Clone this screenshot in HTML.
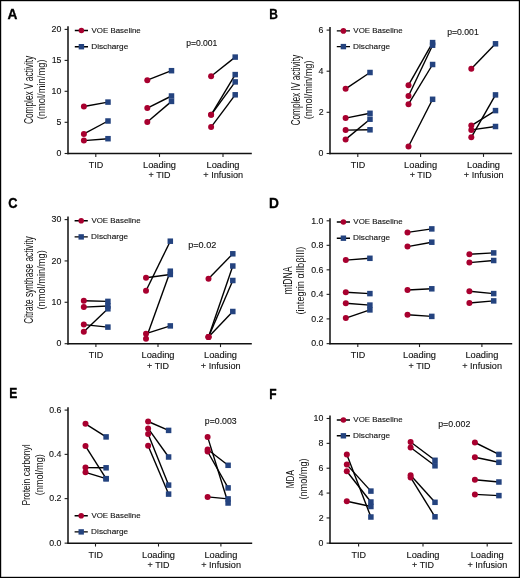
<!DOCTYPE html>
<html><head><meta charset="utf-8"><title>Figure</title>
<style>
html,body{margin:0;padding:0;background:#fff;}
body{width:520px;height:578px;overflow:hidden;}
svg{display:block;will-change:transform;}
text{font-family:"Liberation Sans", sans-serif;fill:#111;stroke:#111;stroke-width:0.12;}
.let{font-weight:bold;font-size:13.8px;fill:#000;stroke:#000;stroke-width:0.3;}
.tl{}
.xl{}
.lg{}
.pv{}
.yl{stroke:none;}
.axis{fill:none;stroke:#1e1e1e;stroke-width:1.6;}
.xaxis{fill:none;stroke:#111;stroke-width:1.45;}
.tick{fill:none;stroke:#1e1e1e;stroke-width:1.1;}
.dl{fill:none;stroke:#000;stroke-width:1.4;}
.ci{fill:#a8002f;}
.sq{fill:#24437f;}
</style></head>
<body>
<svg width="520" height="578" viewBox="0 0 520 578">
<rect x="0.6" y="0.6" width="518.8" height="576.8" fill="#fff" stroke="#000" stroke-width="1.2"/>
<text x="7.61" y="18.6" class="let" style="font-size:13.8px" textLength="9.92" lengthAdjust="spacingAndGlyphs">A</text>
<path d="M68 26.2V154.2" class="axis"/>
<path d="M67.2 153.5H251.8" class="xaxis"/>
<path d="M64.6 153.5H68" class="tick"/>
<text x="56.53" y="156.1" class="tl" style="font-size:9.4px" textLength="4.91" lengthAdjust="spacingAndGlyphs">0</text>
<path d="M64.6 122.3H68" class="tick"/>
<text x="56.55" y="125.1" class="tl" style="font-size:9.4px" textLength="4.91" lengthAdjust="spacingAndGlyphs">5</text>
<path d="M64.6 91.3H68" class="tick"/>
<text x="51.62" y="94.1" class="tl" style="font-size:9.4px" textLength="9.83" lengthAdjust="spacingAndGlyphs">10</text>
<path d="M64.6 60.4H68" class="tick"/>
<text x="51.65" y="63.2" class="tl" style="font-size:9.4px" textLength="9.83" lengthAdjust="spacingAndGlyphs">15</text>
<path d="M64.6 29.4H68" class="tick"/>
<text x="51.62" y="32.2" class="tl" style="font-size:9.4px" textLength="9.83" lengthAdjust="spacingAndGlyphs">20</text>
<path d="M95.8 153.5V156.9" class="tick"/>
<text x="88.75" y="167.9" class="xl" style="font-size:9.3px" textLength="14.54" lengthAdjust="spacingAndGlyphs">TID</text>
<path d="M159.5 153.5V156.9" class="tick"/>
<text x="142.98" y="167.9" class="xl" style="font-size:9.3px" textLength="33.06" lengthAdjust="spacingAndGlyphs">Loading</text>
<text x="148.55" y="178.4" class="xl" style="font-size:9.3px" textLength="22.07" lengthAdjust="spacingAndGlyphs">+ TID</text>
<path d="M223 153.5V156.9" class="tick"/>
<text x="206.48" y="167.9" class="xl" style="font-size:9.3px" textLength="33.06" lengthAdjust="spacingAndGlyphs">Loading</text>
<text x="203.29" y="178.4" class="xl" style="font-size:9.3px" textLength="39.77" lengthAdjust="spacingAndGlyphs">+ Infusion</text>
<path d="M83.9 106.5L108 102.1" class="dl"/>
<path d="M83.9 133.9L108 121" class="dl"/>
<path d="M83.9 140.6L108 138.7" class="dl"/>
<path d="M147.3 80.2L171.5 70.7" class="dl"/>
<path d="M147.3 108.1L171.5 96" class="dl"/>
<path d="M147.3 122L171.5 101.4" class="dl"/>
<path d="M211.1 76.2L235.2 57.1" class="dl"/>
<path d="M211.1 114.8L235.2 74.6" class="dl"/>
<path d="M211.1 114.8L235.2 81.9" class="dl"/>
<path d="M211.1 127.1L235.2 94.8" class="dl"/>
<rect x="105.25" y="99.35" width="5.5" height="5.5" class="sq"/>
<rect x="105.25" y="118.25" width="5.5" height="5.5" class="sq"/>
<rect x="105.25" y="135.95" width="5.5" height="5.5" class="sq"/>
<circle cx="83.9" cy="106.5" r="3" class="ci"/>
<circle cx="83.9" cy="133.9" r="3" class="ci"/>
<circle cx="83.9" cy="140.6" r="3" class="ci"/>
<rect x="168.75" y="67.95" width="5.5" height="5.5" class="sq"/>
<rect x="168.75" y="93.25" width="5.5" height="5.5" class="sq"/>
<rect x="168.75" y="98.65" width="5.5" height="5.5" class="sq"/>
<circle cx="147.3" cy="80.2" r="3" class="ci"/>
<circle cx="147.3" cy="108.1" r="3" class="ci"/>
<circle cx="147.3" cy="122" r="3" class="ci"/>
<rect x="232.45" y="54.35" width="5.5" height="5.5" class="sq"/>
<rect x="232.45" y="71.85" width="5.5" height="5.5" class="sq"/>
<rect x="232.45" y="79.15" width="5.5" height="5.5" class="sq"/>
<rect x="232.45" y="92.05" width="5.5" height="5.5" class="sq"/>
<circle cx="211.1" cy="76.2" r="3" class="ci"/>
<circle cx="211.1" cy="114.8" r="3" class="ci"/>
<circle cx="211.1" cy="114.8" r="3" class="ci"/>
<circle cx="211.1" cy="127.1" r="3" class="ci"/>
<path d="M74.8 30.5H88M74.8 46.7H88" class="dl"/>
<circle cx="81.4" cy="30.5" r="2.8" class="ci"/>
<rect x="78.7" y="44" width="5.4" height="5.4" class="sq"/>
<text x="91.56" y="32.9" class="lg" style="font-size:8.1px" textLength="49.18" lengthAdjust="spacingAndGlyphs">VOE Baseline</text>
<text x="91.22" y="48.7" class="lg" style="font-size:8.1px" textLength="37.05" lengthAdjust="spacingAndGlyphs">Discharge</text>
<text x="186.14" y="45.6" class="pv" style="font-size:9.3px" textLength="31.27" lengthAdjust="spacingAndGlyphs">p=0.001</text>
<text transform="translate(32.8 124.12) rotate(-90)" class="yl" style="font-size:12px" textLength="68.33" lengthAdjust="spacingAndGlyphs">Complex V activity</text>
<text transform="translate(45.4 119.31) rotate(-90)" class="yl" style="font-size:10.5px" textLength="59.82" lengthAdjust="spacingAndGlyphs">(nmol/min/mg)</text>
<text x="269.14" y="18.5" class="let" style="font-size:13.8px" textLength="8.64" lengthAdjust="spacingAndGlyphs">B</text>
<path d="M330 27.1V154.2" class="axis"/>
<path d="M329.2 153.5H512.1" class="xaxis"/>
<path d="M326.6 153.5H330" class="tick"/>
<text x="318.53" y="156.2" class="tl" style="font-size:9.4px" textLength="4.91" lengthAdjust="spacingAndGlyphs">0</text>
<path d="M326.6 112.3H330" class="tick"/>
<text x="318.64" y="115.1" class="tl" style="font-size:9.4px" textLength="4.91" lengthAdjust="spacingAndGlyphs">2</text>
<path d="M326.6 71.2H330" class="tick"/>
<text x="318.44" y="74" class="tl" style="font-size:9.4px" textLength="4.91" lengthAdjust="spacingAndGlyphs">4</text>
<path d="M326.6 30.1H330" class="tick"/>
<text x="318.57" y="32.9" class="tl" style="font-size:9.4px" textLength="4.91" lengthAdjust="spacingAndGlyphs">6</text>
<path d="M357.8 153.5V156.9" class="tick"/>
<text x="350.75" y="167.9" class="xl" style="font-size:9.3px" textLength="14.54" lengthAdjust="spacingAndGlyphs">TID</text>
<path d="M420.6 153.5V156.9" class="tick"/>
<text x="404.08" y="167.9" class="xl" style="font-size:9.3px" textLength="33.06" lengthAdjust="spacingAndGlyphs">Loading</text>
<text x="409.65" y="178.4" class="xl" style="font-size:9.3px" textLength="22.07" lengthAdjust="spacingAndGlyphs">+ TID</text>
<path d="M483.5 153.5V156.9" class="tick"/>
<text x="466.98" y="167.9" class="xl" style="font-size:9.3px" textLength="33.06" lengthAdjust="spacingAndGlyphs">Loading</text>
<text x="463.79" y="178.4" class="xl" style="font-size:9.3px" textLength="39.77" lengthAdjust="spacingAndGlyphs">+ Infusion</text>
<path d="M345.6 88.8L370 72.5" class="dl"/>
<path d="M345.6 118.1L370 113.3" class="dl"/>
<path d="M345.6 130.1L370 129.8" class="dl"/>
<path d="M345.6 139.4L370 119.2" class="dl"/>
<path d="M408.5 85.2L432.6 42.6" class="dl"/>
<path d="M408.5 96L432.6 45.2" class="dl"/>
<path d="M408.5 104.2L432.6 64.5" class="dl"/>
<path d="M408.5 146.5L432.6 99.3" class="dl"/>
<path d="M471.3 68.7L495.5 43.8" class="dl"/>
<path d="M471.3 125.6L495.5 110.6" class="dl"/>
<path d="M471.3 129.9L495.5 126.5" class="dl"/>
<path d="M471.3 137.3L495.5 94.9" class="dl"/>
<rect x="367.25" y="69.75" width="5.5" height="5.5" class="sq"/>
<rect x="367.25" y="110.55" width="5.5" height="5.5" class="sq"/>
<rect x="367.25" y="127.05" width="5.5" height="5.5" class="sq"/>
<rect x="367.25" y="116.45" width="5.5" height="5.5" class="sq"/>
<circle cx="345.6" cy="88.8" r="3" class="ci"/>
<circle cx="345.6" cy="118.1" r="3" class="ci"/>
<circle cx="345.6" cy="130.1" r="3" class="ci"/>
<circle cx="345.6" cy="139.4" r="3" class="ci"/>
<rect x="429.85" y="39.85" width="5.5" height="5.5" class="sq"/>
<rect x="429.85" y="42.45" width="5.5" height="5.5" class="sq"/>
<rect x="429.85" y="61.75" width="5.5" height="5.5" class="sq"/>
<rect x="429.85" y="96.55" width="5.5" height="5.5" class="sq"/>
<circle cx="408.5" cy="85.2" r="3" class="ci"/>
<circle cx="408.5" cy="96" r="3" class="ci"/>
<circle cx="408.5" cy="104.2" r="3" class="ci"/>
<circle cx="408.5" cy="146.5" r="3" class="ci"/>
<rect x="492.75" y="41.05" width="5.5" height="5.5" class="sq"/>
<rect x="492.75" y="107.85" width="5.5" height="5.5" class="sq"/>
<rect x="492.75" y="123.75" width="5.5" height="5.5" class="sq"/>
<rect x="492.75" y="92.15" width="5.5" height="5.5" class="sq"/>
<circle cx="471.3" cy="68.7" r="3" class="ci"/>
<circle cx="471.3" cy="125.6" r="3" class="ci"/>
<circle cx="471.3" cy="129.9" r="3" class="ci"/>
<circle cx="471.3" cy="137.3" r="3" class="ci"/>
<path d="M336.8 30.9H350M336.8 46.6H350" class="dl"/>
<circle cx="343.4" cy="30.9" r="2.8" class="ci"/>
<rect x="340.7" y="43.9" width="5.4" height="5.4" class="sq"/>
<text x="353.36" y="33.3" class="lg" style="font-size:8.1px" textLength="49.18" lengthAdjust="spacingAndGlyphs">VOE Baseline</text>
<text x="353.02" y="48.6" class="lg" style="font-size:8.1px" textLength="37.05" lengthAdjust="spacingAndGlyphs">Discharge</text>
<text x="447.14" y="34.8" class="pv" style="font-size:9.3px" textLength="31.58" lengthAdjust="spacingAndGlyphs">p=0.001</text>
<text transform="translate(299.8 125.52) rotate(-90)" class="yl" style="font-size:12px" textLength="70.64" lengthAdjust="spacingAndGlyphs">Complex IV activity</text>
<text transform="translate(312 119.35) rotate(-90)" class="yl" style="font-size:10.5px" textLength="58.9" lengthAdjust="spacingAndGlyphs">(nmol/min/mg)</text>
<text x="8.24" y="208.4" class="let" style="font-size:13.8px" textLength="9.26" lengthAdjust="spacingAndGlyphs">C</text>
<path d="M68 216.5V344.4" class="axis"/>
<path d="M67.2 343.7H251.8" class="xaxis"/>
<path d="M64.6 343.7H68" class="tick"/>
<text x="56.53" y="346.4" class="tl" style="font-size:9.4px" textLength="4.91" lengthAdjust="spacingAndGlyphs">0</text>
<path d="M64.6 302.27H68" class="tick"/>
<text x="51.62" y="305.07" class="tl" style="font-size:9.4px" textLength="9.83" lengthAdjust="spacingAndGlyphs">10</text>
<path d="M64.6 260.93H68" class="tick"/>
<text x="51.62" y="263.73" class="tl" style="font-size:9.4px" textLength="9.83" lengthAdjust="spacingAndGlyphs">20</text>
<path d="M64.6 219.6H68" class="tick"/>
<text x="51.62" y="222.4" class="tl" style="font-size:9.4px" textLength="9.83" lengthAdjust="spacingAndGlyphs">30</text>
<path d="M95.9 343.7V347.1" class="tick"/>
<text x="88.85" y="358.1" class="xl" style="font-size:9.3px" textLength="14.54" lengthAdjust="spacingAndGlyphs">TID</text>
<path d="M158 343.7V347.1" class="tick"/>
<text x="141.48" y="358.1" class="xl" style="font-size:9.3px" textLength="33.06" lengthAdjust="spacingAndGlyphs">Loading</text>
<text x="147.05" y="368.6" class="xl" style="font-size:9.3px" textLength="22.07" lengthAdjust="spacingAndGlyphs">+ TID</text>
<path d="M220.5 343.7V347.1" class="tick"/>
<text x="203.98" y="358.1" class="xl" style="font-size:9.3px" textLength="33.06" lengthAdjust="spacingAndGlyphs">Loading</text>
<text x="200.79" y="368.6" class="xl" style="font-size:9.3px" textLength="39.77" lengthAdjust="spacingAndGlyphs">+ Infusion</text>
<path d="M83.8 300.8L107.9 301.4" class="dl"/>
<path d="M83.8 307.1L107.9 306" class="dl"/>
<path d="M83.8 324.6L107.9 327.1" class="dl"/>
<path d="M83.8 331.7L107.9 308.8" class="dl"/>
<path d="M146 290.7L170.3 241.2" class="dl"/>
<path d="M146 277.8L170.3 274.5" class="dl"/>
<path d="M146 338.8L170.3 271.2" class="dl"/>
<path d="M146 333.7L170.3 325.9" class="dl"/>
<path d="M208.5 278.7L232.8 253.8" class="dl"/>
<path d="M208.5 337L232.8 266" class="dl"/>
<path d="M208.5 337L232.8 280.5" class="dl"/>
<path d="M208.5 337L232.8 311.5" class="dl"/>
<rect x="105.15" y="298.65" width="5.5" height="5.5" class="sq"/>
<rect x="105.15" y="303.25" width="5.5" height="5.5" class="sq"/>
<rect x="105.15" y="324.35" width="5.5" height="5.5" class="sq"/>
<rect x="105.15" y="306.05" width="5.5" height="5.5" class="sq"/>
<circle cx="83.8" cy="300.8" r="3" class="ci"/>
<circle cx="83.8" cy="307.1" r="3" class="ci"/>
<circle cx="83.8" cy="324.6" r="3" class="ci"/>
<circle cx="83.8" cy="331.7" r="3" class="ci"/>
<rect x="167.55" y="238.45" width="5.5" height="5.5" class="sq"/>
<rect x="167.55" y="271.75" width="5.5" height="5.5" class="sq"/>
<rect x="167.55" y="268.45" width="5.5" height="5.5" class="sq"/>
<rect x="167.55" y="323.15" width="5.5" height="5.5" class="sq"/>
<circle cx="146" cy="290.7" r="3" class="ci"/>
<circle cx="146" cy="277.8" r="3" class="ci"/>
<circle cx="146" cy="338.8" r="3" class="ci"/>
<circle cx="146" cy="333.7" r="3" class="ci"/>
<rect x="230.05" y="251.05" width="5.5" height="5.5" class="sq"/>
<rect x="230.05" y="263.25" width="5.5" height="5.5" class="sq"/>
<rect x="230.05" y="277.75" width="5.5" height="5.5" class="sq"/>
<rect x="230.05" y="308.75" width="5.5" height="5.5" class="sq"/>
<circle cx="208.5" cy="278.7" r="3" class="ci"/>
<circle cx="208.5" cy="337" r="3" class="ci"/>
<circle cx="208.5" cy="337" r="3" class="ci"/>
<circle cx="208.5" cy="337" r="3" class="ci"/>
<path d="M74.6 220.8H87.8M74.6 236.9H87.8" class="dl"/>
<circle cx="81.2" cy="220.8" r="2.8" class="ci"/>
<rect x="78.5" y="234.2" width="5.4" height="5.4" class="sq"/>
<text x="91.46" y="223.2" class="lg" style="font-size:8.1px" textLength="49.18" lengthAdjust="spacingAndGlyphs">VOE Baseline</text>
<text x="91.12" y="238.9" class="lg" style="font-size:8.1px" textLength="37.05" lengthAdjust="spacingAndGlyphs">Discharge</text>
<text x="188.21" y="248.3" class="pv" style="font-size:9.3px" textLength="28.06" lengthAdjust="spacingAndGlyphs">p=0.02</text>
<text transform="translate(32.8 323.81) rotate(-90)" class="yl" style="font-size:12px" textLength="87.53" lengthAdjust="spacingAndGlyphs">Citrate synthase activity</text>
<text transform="translate(45.3 309.58) rotate(-90)" class="yl" style="font-size:10.5px" textLength="59.36" lengthAdjust="spacingAndGlyphs">(nmol/min/mg)</text>
<text x="269.02" y="208" class="let" style="font-size:13.8px" textLength="9.9" lengthAdjust="spacingAndGlyphs">D</text>
<path d="M330 218.2V344.35" class="axis"/>
<path d="M329.2 343.65H512.2" class="xaxis"/>
<path d="M326.6 343.65H330" class="tick"/>
<text x="311.15" y="346.2" class="tl" style="font-size:9.4px" textLength="12.28" lengthAdjust="spacingAndGlyphs">0.0</text>
<path d="M326.6 318.88H330" class="tick"/>
<text x="311.26" y="321.68" class="tl" style="font-size:9.4px" textLength="12.28" lengthAdjust="spacingAndGlyphs">0.2</text>
<path d="M326.6 294.36H330" class="tick"/>
<text x="311.06" y="297.16" class="tl" style="font-size:9.4px" textLength="12.28" lengthAdjust="spacingAndGlyphs">0.4</text>
<path d="M326.6 269.84H330" class="tick"/>
<text x="311.19" y="272.64" class="tl" style="font-size:9.4px" textLength="12.28" lengthAdjust="spacingAndGlyphs">0.6</text>
<path d="M326.6 245.32H330" class="tick"/>
<text x="311.19" y="248.12" class="tl" style="font-size:9.4px" textLength="12.28" lengthAdjust="spacingAndGlyphs">0.8</text>
<path d="M326.6 220.8H330" class="tick"/>
<text x="311.15" y="223.6" class="tl" style="font-size:9.4px" textLength="12.28" lengthAdjust="spacingAndGlyphs">1.0</text>
<path d="M357.8 343.65V347.05" class="tick"/>
<text x="350.75" y="358.05" class="xl" style="font-size:9.3px" textLength="14.54" lengthAdjust="spacingAndGlyphs">TID</text>
<path d="M419.5 343.65V347.05" class="tick"/>
<text x="402.98" y="358.05" class="xl" style="font-size:9.3px" textLength="33.06" lengthAdjust="spacingAndGlyphs">Loading</text>
<text x="408.55" y="368.55" class="xl" style="font-size:9.3px" textLength="22.07" lengthAdjust="spacingAndGlyphs">+ TID</text>
<path d="M481.9 343.65V347.05" class="tick"/>
<text x="465.38" y="358.05" class="xl" style="font-size:9.3px" textLength="33.06" lengthAdjust="spacingAndGlyphs">Loading</text>
<text x="462.19" y="368.55" class="xl" style="font-size:9.3px" textLength="39.77" lengthAdjust="spacingAndGlyphs">+ Infusion</text>
<path d="M345.8 260.1L369.9 258.3" class="dl"/>
<path d="M345.8 292.2L369.9 293.6" class="dl"/>
<path d="M345.8 303.3L369.9 305.1" class="dl"/>
<path d="M345.8 318.1L369.9 309.9" class="dl"/>
<path d="M407.5 232.4L431.8 228.9" class="dl"/>
<path d="M407.5 246.6L431.8 242.2" class="dl"/>
<path d="M407.5 290L431.8 288.8" class="dl"/>
<path d="M407.5 314.7L431.8 316.4" class="dl"/>
<path d="M469.4 254.3L493.7 252.9" class="dl"/>
<path d="M469.4 262.6L493.7 260.5" class="dl"/>
<path d="M469.4 291.2L493.7 293.6" class="dl"/>
<path d="M469.4 303L493.7 300.9" class="dl"/>
<rect x="367.15" y="255.55" width="5.5" height="5.5" class="sq"/>
<rect x="367.15" y="290.85" width="5.5" height="5.5" class="sq"/>
<rect x="367.15" y="302.35" width="5.5" height="5.5" class="sq"/>
<rect x="367.15" y="307.15" width="5.5" height="5.5" class="sq"/>
<circle cx="345.8" cy="260.1" r="3" class="ci"/>
<circle cx="345.8" cy="292.2" r="3" class="ci"/>
<circle cx="345.8" cy="303.3" r="3" class="ci"/>
<circle cx="345.8" cy="318.1" r="3" class="ci"/>
<rect x="429.05" y="226.15" width="5.5" height="5.5" class="sq"/>
<rect x="429.05" y="239.45" width="5.5" height="5.5" class="sq"/>
<rect x="429.05" y="286.05" width="5.5" height="5.5" class="sq"/>
<rect x="429.05" y="313.65" width="5.5" height="5.5" class="sq"/>
<circle cx="407.5" cy="232.4" r="3" class="ci"/>
<circle cx="407.5" cy="246.6" r="3" class="ci"/>
<circle cx="407.5" cy="290" r="3" class="ci"/>
<circle cx="407.5" cy="314.7" r="3" class="ci"/>
<rect x="490.95" y="250.15" width="5.5" height="5.5" class="sq"/>
<rect x="490.95" y="257.75" width="5.5" height="5.5" class="sq"/>
<rect x="490.95" y="290.85" width="5.5" height="5.5" class="sq"/>
<rect x="490.95" y="298.15" width="5.5" height="5.5" class="sq"/>
<circle cx="469.4" cy="254.3" r="3" class="ci"/>
<circle cx="469.4" cy="262.6" r="3" class="ci"/>
<circle cx="469.4" cy="291.2" r="3" class="ci"/>
<circle cx="469.4" cy="303" r="3" class="ci"/>
<path d="M336.8 222H350M336.8 238.2H350" class="dl"/>
<circle cx="343.4" cy="222" r="2.8" class="ci"/>
<rect x="340.7" y="235.5" width="5.4" height="5.4" class="sq"/>
<text x="353.36" y="224.4" class="lg" style="font-size:8.1px" textLength="49.18" lengthAdjust="spacingAndGlyphs">VOE Baseline</text>
<text x="353.02" y="240.2" class="lg" style="font-size:8.1px" textLength="37.05" lengthAdjust="spacingAndGlyphs">Discharge</text>
<text transform="translate(291.9 294.18) rotate(-90)" class="yl" style="font-size:12px" textLength="27.6" lengthAdjust="spacingAndGlyphs">mtDNA</text>
<text transform="translate(304.4 314.48) rotate(-90)" class="yl" style="font-size:10.5px" textLength="67.86" lengthAdjust="spacingAndGlyphs">(integrin αIIbβIII)</text>
<text x="9.33" y="398.4" class="let" style="font-size:13.8px" textLength="8.1" lengthAdjust="spacingAndGlyphs">E</text>
<path d="M68 407.2V543.85" class="axis"/>
<path d="M67.2 543.15H252.2" class="xaxis"/>
<path d="M64.6 543.15H68" class="tick"/>
<text x="49.15" y="545.7" class="tl" style="font-size:9.4px" textLength="12.28" lengthAdjust="spacingAndGlyphs">0.0</text>
<path d="M64.6 498.63H68" class="tick"/>
<text x="49.26" y="501.43" class="tl" style="font-size:9.4px" textLength="12.28" lengthAdjust="spacingAndGlyphs">0.2</text>
<path d="M64.6 454.37H68" class="tick"/>
<text x="49.06" y="457.17" class="tl" style="font-size:9.4px" textLength="12.28" lengthAdjust="spacingAndGlyphs">0.4</text>
<path d="M64.6 410.1H68" class="tick"/>
<text x="49.19" y="412.9" class="tl" style="font-size:9.4px" textLength="12.28" lengthAdjust="spacingAndGlyphs">0.6</text>
<path d="M95.5 543.15V546.55" class="tick"/>
<text x="88.45" y="557.55" class="xl" style="font-size:9.3px" textLength="14.54" lengthAdjust="spacingAndGlyphs">TID</text>
<path d="M158.5 543.15V546.55" class="tick"/>
<text x="141.98" y="557.55" class="xl" style="font-size:9.3px" textLength="33.06" lengthAdjust="spacingAndGlyphs">Loading</text>
<text x="147.55" y="568.05" class="xl" style="font-size:9.3px" textLength="22.07" lengthAdjust="spacingAndGlyphs">+ TID</text>
<path d="M220.9 543.15V546.55" class="tick"/>
<text x="204.38" y="557.55" class="xl" style="font-size:9.3px" textLength="33.06" lengthAdjust="spacingAndGlyphs">Loading</text>
<text x="201.19" y="568.05" class="xl" style="font-size:9.3px" textLength="39.77" lengthAdjust="spacingAndGlyphs">+ Infusion</text>
<path d="M85.5 423.8L106.1 436.9" class="dl"/>
<path d="M85.5 446.1L106.1 478.7" class="dl"/>
<path d="M85.5 467.6L106.1 467.8" class="dl"/>
<path d="M85.5 472.3L106.1 478.7" class="dl"/>
<path d="M148.1 421.5L168.6 430.4" class="dl"/>
<path d="M148.1 428.4L168.6 457" class="dl"/>
<path d="M148.1 434L168.6 485.1" class="dl"/>
<path d="M148.1 445.7L168.6 494.1" class="dl"/>
<path d="M207.6 436.9L228.1 503" class="dl"/>
<path d="M207.6 449.5L228.1 465.3" class="dl"/>
<path d="M207.6 451.5L228.1 487.9" class="dl"/>
<path d="M207.6 496.9L228.1 498.9" class="dl"/>
<rect x="103.35" y="434.15" width="5.5" height="5.5" class="sq"/>
<rect x="103.35" y="475.95" width="5.5" height="5.5" class="sq"/>
<rect x="103.35" y="465.05" width="5.5" height="5.5" class="sq"/>
<rect x="103.35" y="475.95" width="5.5" height="5.5" class="sq"/>
<circle cx="85.5" cy="423.8" r="3" class="ci"/>
<circle cx="85.5" cy="446.1" r="3" class="ci"/>
<circle cx="85.5" cy="467.6" r="3" class="ci"/>
<circle cx="85.5" cy="472.3" r="3" class="ci"/>
<rect x="165.85" y="427.65" width="5.5" height="5.5" class="sq"/>
<rect x="165.85" y="454.25" width="5.5" height="5.5" class="sq"/>
<rect x="165.85" y="482.35" width="5.5" height="5.5" class="sq"/>
<rect x="165.85" y="491.35" width="5.5" height="5.5" class="sq"/>
<circle cx="148.1" cy="421.5" r="3" class="ci"/>
<circle cx="148.1" cy="428.4" r="3" class="ci"/>
<circle cx="148.1" cy="434" r="3" class="ci"/>
<circle cx="148.1" cy="445.7" r="3" class="ci"/>
<rect x="225.35" y="500.25" width="5.5" height="5.5" class="sq"/>
<rect x="225.35" y="462.55" width="5.5" height="5.5" class="sq"/>
<rect x="225.35" y="485.15" width="5.5" height="5.5" class="sq"/>
<rect x="225.35" y="496.15" width="5.5" height="5.5" class="sq"/>
<circle cx="207.6" cy="436.9" r="3" class="ci"/>
<circle cx="207.6" cy="449.5" r="3" class="ci"/>
<circle cx="207.6" cy="451.5" r="3" class="ci"/>
<circle cx="207.6" cy="496.9" r="3" class="ci"/>
<path d="M74.6 515.8H87.8M74.6 531.9H87.8" class="dl"/>
<circle cx="81.2" cy="515.8" r="2.8" class="ci"/>
<rect x="78.5" y="529.2" width="5.4" height="5.4" class="sq"/>
<text x="91.46" y="518.2" class="lg" style="font-size:8.1px" textLength="49.18" lengthAdjust="spacingAndGlyphs">VOE Baseline</text>
<text x="91.12" y="533.9" class="lg" style="font-size:8.1px" textLength="37.05" lengthAdjust="spacingAndGlyphs">Discharge</text>
<text x="204.83" y="423.9" class="pv" style="font-size:9.3px" textLength="31.84" lengthAdjust="spacingAndGlyphs">p=0.003</text>
<text transform="translate(29.8 505.5) rotate(-90)" class="yl" style="font-size:10.8px" textLength="61.16" lengthAdjust="spacingAndGlyphs">Protein carbonyl</text>
<text transform="translate(42.8 495.25) rotate(-90)" class="yl" style="font-size:10.5px" textLength="41.1" lengthAdjust="spacingAndGlyphs">(nmol/mg)</text>
<text x="269.14" y="398.5" class="let" style="font-size:13.8px" textLength="7.34" lengthAdjust="spacingAndGlyphs">F</text>
<path d="M330 415.4V543.85" class="axis"/>
<path d="M329.2 543.15H512.2" class="xaxis"/>
<path d="M326.6 543.15H330" class="tick"/>
<text x="318.53" y="545.6" class="tl" style="font-size:9.4px" textLength="4.91" lengthAdjust="spacingAndGlyphs">0</text>
<path d="M326.6 517.94H330" class="tick"/>
<text x="318.64" y="520.74" class="tl" style="font-size:9.4px" textLength="4.91" lengthAdjust="spacingAndGlyphs">2</text>
<path d="M326.6 493.08H330" class="tick"/>
<text x="318.44" y="495.88" class="tl" style="font-size:9.4px" textLength="4.91" lengthAdjust="spacingAndGlyphs">4</text>
<path d="M326.6 468.22H330" class="tick"/>
<text x="318.57" y="471.02" class="tl" style="font-size:9.4px" textLength="4.91" lengthAdjust="spacingAndGlyphs">6</text>
<path d="M326.6 443.36H330" class="tick"/>
<text x="318.57" y="446.16" class="tl" style="font-size:9.4px" textLength="4.91" lengthAdjust="spacingAndGlyphs">8</text>
<path d="M326.6 418.5H330" class="tick"/>
<text x="313.62" y="421.3" class="tl" style="font-size:9.4px" textLength="9.83" lengthAdjust="spacingAndGlyphs">10</text>
<path d="M358.6 543.15V546.55" class="tick"/>
<text x="351.55" y="557.55" class="xl" style="font-size:9.3px" textLength="14.54" lengthAdjust="spacingAndGlyphs">TID</text>
<path d="M423 543.15V546.55" class="tick"/>
<text x="406.48" y="557.55" class="xl" style="font-size:9.3px" textLength="33.06" lengthAdjust="spacingAndGlyphs">Loading</text>
<text x="412.05" y="568.05" class="xl" style="font-size:9.3px" textLength="22.07" lengthAdjust="spacingAndGlyphs">+ TID</text>
<path d="M487.2 543.15V546.55" class="tick"/>
<text x="470.68" y="557.55" class="xl" style="font-size:9.3px" textLength="33.06" lengthAdjust="spacingAndGlyphs">Loading</text>
<text x="467.49" y="568.05" class="xl" style="font-size:9.3px" textLength="39.77" lengthAdjust="spacingAndGlyphs">+ Infusion</text>
<path d="M346.8 454.6L370.9 517" class="dl"/>
<path d="M346.8 464.6L370.9 491.1" class="dl"/>
<path d="M346.8 471.2L370.9 502" class="dl"/>
<path d="M346.8 501.3L370.9 506.5" class="dl"/>
<path d="M410.6 442L435 460.3" class="dl"/>
<path d="M410.6 447.5L435 465.8" class="dl"/>
<path d="M410.6 475.2L435 502.3" class="dl"/>
<path d="M410.6 477.4L435 516.8" class="dl"/>
<path d="M474.9 442.5L498.9 454.4" class="dl"/>
<path d="M474.9 457.2L498.9 462.3" class="dl"/>
<path d="M474.9 479.8L498.9 482" class="dl"/>
<path d="M474.9 494.4L498.9 495.6" class="dl"/>
<rect x="368.15" y="514.25" width="5.5" height="5.5" class="sq"/>
<rect x="368.15" y="488.35" width="5.5" height="5.5" class="sq"/>
<rect x="368.15" y="499.25" width="5.5" height="5.5" class="sq"/>
<rect x="368.15" y="503.75" width="5.5" height="5.5" class="sq"/>
<circle cx="346.8" cy="454.6" r="3" class="ci"/>
<circle cx="346.8" cy="464.6" r="3" class="ci"/>
<circle cx="346.8" cy="471.2" r="3" class="ci"/>
<circle cx="346.8" cy="501.3" r="3" class="ci"/>
<rect x="432.25" y="457.55" width="5.5" height="5.5" class="sq"/>
<rect x="432.25" y="463.05" width="5.5" height="5.5" class="sq"/>
<rect x="432.25" y="499.55" width="5.5" height="5.5" class="sq"/>
<rect x="432.25" y="514.05" width="5.5" height="5.5" class="sq"/>
<circle cx="410.6" cy="442" r="3" class="ci"/>
<circle cx="410.6" cy="447.5" r="3" class="ci"/>
<circle cx="410.6" cy="475.2" r="3" class="ci"/>
<circle cx="410.6" cy="477.4" r="3" class="ci"/>
<rect x="496.15" y="451.65" width="5.5" height="5.5" class="sq"/>
<rect x="496.15" y="459.55" width="5.5" height="5.5" class="sq"/>
<rect x="496.15" y="479.25" width="5.5" height="5.5" class="sq"/>
<rect x="496.15" y="492.85" width="5.5" height="5.5" class="sq"/>
<circle cx="474.9" cy="442.5" r="3" class="ci"/>
<circle cx="474.9" cy="457.2" r="3" class="ci"/>
<circle cx="474.9" cy="479.8" r="3" class="ci"/>
<circle cx="474.9" cy="494.4" r="3" class="ci"/>
<path d="M336.8 420H350M336.8 435.8H350" class="dl"/>
<circle cx="343.4" cy="420" r="2.8" class="ci"/>
<rect x="340.7" y="433.1" width="5.4" height="5.4" class="sq"/>
<text x="353.36" y="422.4" class="lg" style="font-size:8.1px" textLength="49.18" lengthAdjust="spacingAndGlyphs">VOE Baseline</text>
<text x="353.02" y="437.8" class="lg" style="font-size:8.1px" textLength="37.05" lengthAdjust="spacingAndGlyphs">Discharge</text>
<text x="438.23" y="426.7" class="pv" style="font-size:9.3px" textLength="32.12" lengthAdjust="spacingAndGlyphs">p=0.002</text>
<text transform="translate(294.3 488.28) rotate(-90)" class="yl" style="font-size:10.5px" textLength="18.3" lengthAdjust="spacingAndGlyphs">MDA</text>
<text transform="translate(306.9 499.57) rotate(-90)" class="yl" style="font-size:10.5px" textLength="41.15" lengthAdjust="spacingAndGlyphs">(nmol/mg)</text>
</svg>
</body></html>
